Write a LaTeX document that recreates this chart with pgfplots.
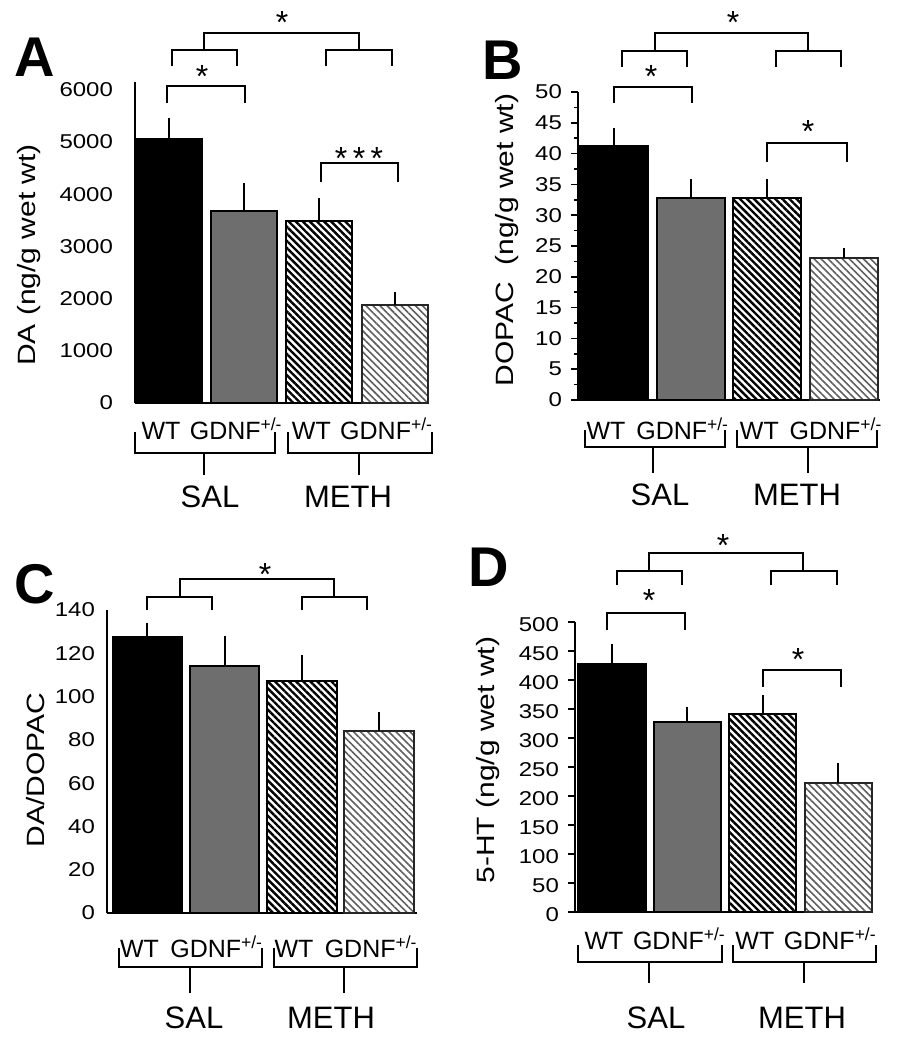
\documentclass[border=0pt]{standalone}
\usepackage{fontspec}
\setmainfont{Liberation Sans}[FakeStretch=1.2]
\newfontfamily\plainsans{Liberation Sans}
\usepackage{pgfplots}
\pgfplotsset{compat=1.18}
\usetikzlibrary{patterns.meta}
\definecolor{bargray}{RGB}{110,110,110}
\definecolor{hatchgray}{RGB}{95,95,95}

\pgfplotsset{
  panel/.style={
    scale only axis, anchor=south west, clip=false,
    axis x line*=bottom, axis y line*=left,
    axis line style={line width=1pt, black},
    ybar, bar shift=0pt, ymin=0,
    xtick={0,1,2,3},
    xticklabels={WT, GDNF\textsuperscript{+/-}, WT, GDNF\textsuperscript{+/-}},
    xtick style={draw=none},
    tick align=outside,
    ytick style={line width=0.8pt, black},
    major tick length=3.5pt, minor tick length=2pt,
    /pgf/number format/assume math mode=true,
    /pgf/number format/1000 sep={},
    scaled y ticks=false,
    yticklabel style={font=\fontsize{10}{10}\selectfont},
    xticklabel style={font=\plainsans\fontsize{12.5}{12.5}\selectfont, inner sep=0pt, anchor=base, xshift=-4pt},
    ylabel style={font=\fontsize{12.5}{12.5}\selectfont, anchor=center},
    error bars/y dir=plus, error bars/y explicit,
    error bars/error bar style={line width=1pt, black},
    error bars/error mark options={line width=1pt, black, mark size=1.3pt},
  },
  b1/.style={draw=black, fill=black, line width=1pt},
  b2/.style={draw=black, fill=bargray, line width=1pt},
  b3/.style={draw=black, line width=1pt, pattern={Lines[angle=-45,distance=2.5pt,line width=1.2pt]}, pattern color=black},
  b4/.style={draw=black!85, line width=1pt, pattern={Lines[angle=-45,distance=2.5pt,line width=0.8pt]}, pattern color=hatchgray},
}

\begin{document}
\begin{tikzpicture}
\path[use as bounding box] (0pt,0pt) rectangle (458.5pt,-525pt);

% ---------------- Panel A ----------------
\begin{axis}[panel, at={(67.5pt,-201.5pt)}, width=146.5pt, height=160.5pt,
  xmin=-0.452, xmax=3.444, bar width=0.88, ymax=6150,
  ytick={0,1000,...,6000}, ytick style={draw=none},
  yticklabel style={xshift=-4pt},
  xticklabel style={yshift=-14.5pt},
  ylabel={DA (ng/g wet wt)},
  ylabel style={at={(rel axis cs:-0.362,0.461)}}]
\addplot[b1] coordinates {(0,5050) +- (0,370)};
\addplot[b2] coordinates {(1,3680) +- (0,490)};
\addplot[b3] coordinates {(2,3480) +- (0,400)};
\addplot[b4] coordinates {(3,1880) +- (0,200)};
\end{axis}

% ---------------- Panel B ----------------
\begin{axis}[panel, at={(289pt,-200pt)}, width=151pt, height=154pt,
  xmin=-0.47, xmax=3.47, bar width=0.89, ymax=50,
  ytick={0,5,...,50}, minor y tick num=1,
  yticklabel style={xshift=-1pt},
  xticklabel style={yshift=-16pt},
  ylabel={DOPAC\ \ (ng/g wet wt)},
  ylabel style={at={(rel axis cs:-0.235,0.519)}}]
\addplot[b1] coordinates {(0,41.3) +- (0,2.5)};
\addplot[b2] coordinates {(1,32.8) +- (0,2.6)};
\addplot[b3] coordinates {(2,32.8) +- (0,2.6)};
\addplot[b4] coordinates {(3,23.1) +- (0,1.1)};
\end{axis}

% ---------------- Panel C ----------------
\begin{axis}[panel, at={(53.5pt,-456.5pt)}, width=155pt, height=151.5pt,
  xmin=-0.524, xmax=3.49, bar width=0.9, ymax=140,
  ytick={0,20,...,140}, ytick style={draw=none},
  yticklabel style={xshift=1pt},
  xticklabel style={yshift=-18.5pt},
  ylabel={DA/DOPAC},
  ylabel style={at={(rel axis cs:-0.232,0.472)}}]
\addplot[b1] coordinates {(0,127.7) +- (0,5.3)};
\addplot[b2] coordinates {(1,114) +- (0,13)};
\addplot[b3] coordinates {(2,107.4) +- (0,10.6)};
\addplot[b4] coordinates {(3,84) +- (0,7.7)};
\end{axis}

% ---------------- Panel D ----------------
\begin{axis}[panel, at={(287.5pt,-456pt)}, width=149pt, height=145pt,
  xmin=-0.49, xmax=3.46, bar width=0.89, ymax=500,
  ytick={0,50,...,500},
  yticklabel style={xshift=-1pt, yshift=-1.5pt},
  xticklabel style={yshift=-15pt},
  ylabel={5-HT (ng/g wet wt)},
  ylabel style={at={(rel axis cs:-0.292,0.524)}}]
\addplot[b1] coordinates {(0,428) +- (0,30)};
\addplot[b2] coordinates {(1,328) +- (0,21)};
\addplot[b3] coordinates {(2,341) +- (0,28)};
\addplot[b4] coordinates {(3,222) +- (0,30)};
\end{axis}

% ---------------- annotations (pixel frame) ----------------
\begin{scope}[x=0.5pt, y=-0.5pt, line width=1pt,
  star/.style={font=\plainsans\fontsize{16}{16}\selectfont, inner sep=0pt},
  grp/.style={font=\plainsans\fontsize{15.5}{15.5}\selectfont, inner sep=0pt},
  letter/.style={font=\plainsans\bfseries\fontsize{28}{28}\selectfont, inner sep=0pt}]
% panel letters
\node[letter] at (35,57) {A};
\node[letter] at (503,60) {B};
\node[letter] at (35,584) {C};
\node[letter] at (489,567) {D};

% A top brackets
\draw (204,50) -- (204,33) -- (359,33) -- (359,50);
\draw (172,66) -- (172,50) -- (237,50) -- (237,66);
\draw (326,66) -- (326,50) -- (392,50) -- (392,66);
\node[star] at (282,22) {*};
\draw (167,103) -- (167,86) -- (245,86) -- (245,103);
\node[star] at (202,76) {*};
\draw (321,182) -- (321,163) -- (398,163) -- (398,182);
\node[star] at (359,158) {*\,*\,*};
% A bottom
\draw (135,432) -- (135,453) -- (275,453) -- (275,432);
\draw (204,453) -- (204,475);
\draw (288,432) -- (288,453) -- (432,453) -- (432,432);
\draw (359,453) -- (359,475);
\node[grp] at (210,497) {SAL};
\node[grp] at (348,497) {METH};

% B top brackets
\draw (655,51) -- (655,33) -- (808,33) -- (808,51);
\draw (622,67) -- (622,51) -- (687,51) -- (687,67);
\draw (776,67) -- (776,51) -- (841,51) -- (841,67);
\node[star] at (733,22) {*};
\draw (614,103) -- (614,87) -- (692,87) -- (692,103);
\node[star] at (651,76) {*};
\draw (767,162) -- (767,143) -- (847,143) -- (847,162);
\node[star] at (808,131) {*};
% B bottom
\draw (585,430) -- (585,447) -- (725,447) -- (725,430);
\draw (653,447) -- (653,473);
\draw (737,430) -- (737,447) -- (877,447) -- (877,430);
\draw (808,447) -- (808,473);
\node[grp] at (660,495) {SAL};
\node[grp] at (797,495) {METH};

% C top brackets
\draw (180,597) -- (180,579) -- (334,579) -- (334,597);
\draw (147,610) -- (147,597) -- (212,597) -- (212,610);
\draw (302,610) -- (302,597) -- (367,597) -- (367,610);
\node[star] at (265,574) {*};
% C bottom
\draw (119,948) -- (119,967) -- (262,967) -- (262,948);
\draw (190,967) -- (190,993);
\draw (274,948) -- (274,967) -- (417,967) -- (417,948);
\draw (344,967) -- (344,993);
\node[grp] at (194,1018) {SAL};
\node[grp] at (331,1018) {METH};

% D top brackets
\draw (649,571) -- (649,553) -- (803,553) -- (803,571);
\draw (617,585) -- (617,571) -- (682,571) -- (682,585);
\draw (771,585) -- (771,571) -- (837,571) -- (837,585);
\node[star] at (723,545) {*};
\draw (607,630) -- (607,613) -- (685,613) -- (685,630);
\node[star] at (649,600) {*};
\draw (763,687) -- (763,670) -- (841,670) -- (841,687);
\node[star] at (798,659) {*};
% D bottom
\draw (578,945) -- (578,962) -- (722,962) -- (722,945);
\draw (649,962) -- (649,983);
\draw (733,945) -- (733,962) -- (876,962) -- (876,945);
\draw (804,962) -- (804,983);
\node[grp] at (656,1018) {SAL};
\node[grp] at (802,1018) {METH};
\end{scope}
\end{tikzpicture}
\end{document}
